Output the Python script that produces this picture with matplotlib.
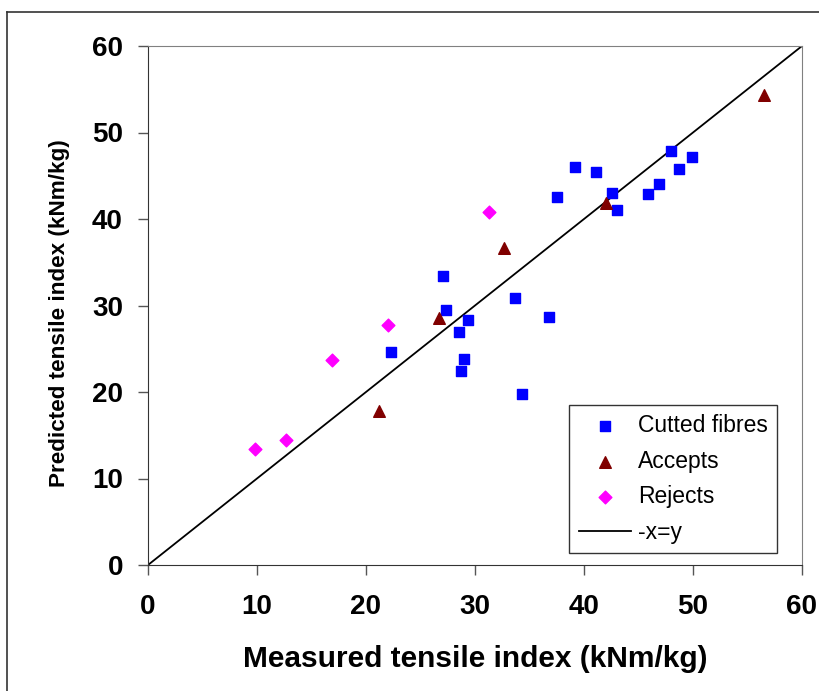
import matplotlib.pyplot as plt
from matplotlib.lines import Line2D

plt.rcParams['font.family'] = ['Liberation Sans', 'DejaVu Sans']

# Cutted fibres
cut_x = [48.0, 49.9, 39.2, 41.1, 48.7, 46.9, 45.9, 42.6, 43.0, 37.5,
         27.1, 33.7, 27.3, 29.4, 36.8, 28.5, 22.3, 29.0, 28.7, 34.3]
cut_y = [47.9, 47.2, 46.0, 45.4, 45.8, 44.0, 42.9, 43.0, 41.0, 42.5,
         33.4, 30.9, 29.5, 28.3, 28.7, 26.9, 24.6, 23.8, 22.4, 19.8]

# Accepts
acc_x = [21.2, 26.7, 32.7, 42.0, 56.5]
acc_y = [17.8, 28.6, 36.7, 41.8, 54.3]

# Rejects
rej_x = [9.8, 12.7, 16.9, 22.0, 31.3]
rej_y = [13.4, 14.4, 23.7, 27.8, 40.8]

line_x = [0, 60]
line_y = [0, 60]

fig = plt.figure(figsize=(8.2, 6.91), dpi=100)
ax = fig.add_axes([148/820, 1-565/691, (802-148)/820, (565-46)/691])

ax.scatter(cut_x, cut_y, marker='s', s=45, color='#0000FF', label='Cutted fibres', zorder=3)
ax.scatter(acc_x, acc_y, marker='^', s=70, color='#800000', label='Accepts', zorder=3)
ax.scatter(rej_x, rej_y, marker='D', s=42, color='#FF00FF', label='Rejects', zorder=3)
ax.plot(line_x, line_y, color='black', lw=1.3, label='-x=y', zorder=2)

ax.set_xlim(0, 60)
ax.set_ylim(0, 60)
ax.set_xticks(range(0, 61, 10))
ax.set_yticks(range(0, 61, 10))
ax.tick_params(direction='out', length=7, width=1, labelsize=20, color='#555555')
ax.tick_params(axis='y', pad=11)
ax.tick_params(axis='x', pad=14)
for lab in ax.get_xticklabels() + ax.get_yticklabels():
    lab.set_fontweight('bold')

ax.spines['top'].set_color('#808080')
ax.spines['right'].set_color('#808080')
ax.spines['left'].set_color('#333333')
ax.spines['bottom'].set_color('#333333')

ax.set_xlabel('Measured tensile index (kNm/kg)', fontsize=21.5, fontweight='bold', labelpad=18)
ax.set_ylabel('Predicted tensile index (kNm/kg)', fontsize=16.2, fontweight='bold', labelpad=16)
ax.yaxis.label.set_y(0.485)

leg = ax.legend(loc='lower right', bbox_to_anchor=(0.962, 0.023), borderaxespad=0,
                fontsize=16.5, frameon=True, fancybox=False, edgecolor='black',
                handlelength=2.3, handletextpad=0.3, labelspacing=0.55,
                borderpad=0.4, scatterpoints=1)
leg.get_frame().set_linewidth(1.0)

# outer chart border
fig.add_artist(Line2D([7/820, 7/820], [0, 1-12/691], color='#333333', lw=1.2))
fig.add_artist(Line2D([7/820, 1], [1-12/691, 1-12/691], color='#333333', lw=1.2))

fig.savefig('out.png', dpi=100)
